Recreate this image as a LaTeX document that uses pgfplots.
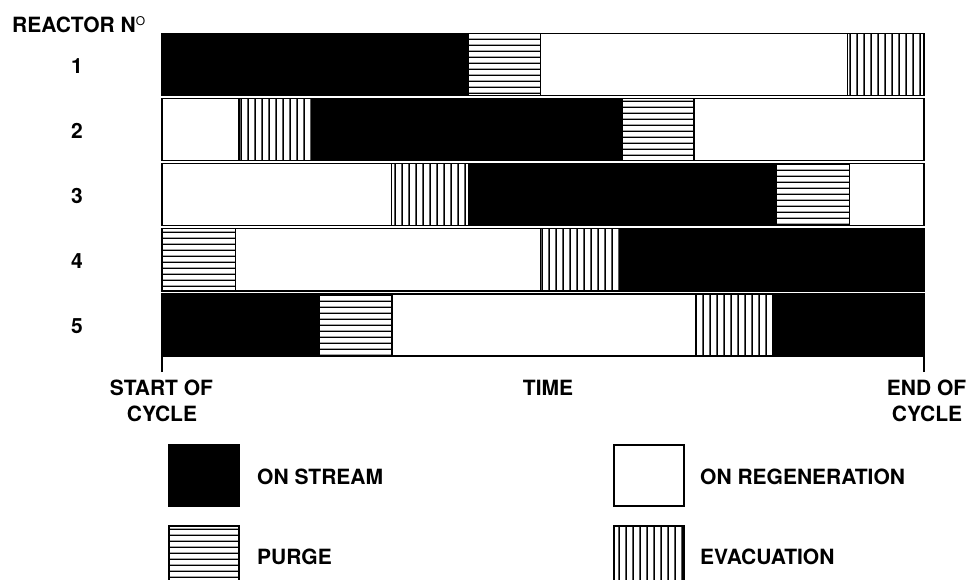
\documentclass[border=0pt]{standalone}
\usepackage{fontspec}
\setmainfont{TeX Gyre Heros}
\usepackage{pgfplots}
\pgfplotsset{compat=1.18}
\usetikzlibrary{patterns}

% long tiles, so that the hatching has no visible seams
\pgfdeclarepatternformonly{hlines}{\pgfpointorigin}{\pgfpoint{300pt}{5.7pt}}{\pgfpoint{300pt}{5.7pt}}{%
  \pgfsetlinewidth{1.2pt}%
  \pgfpathmoveto{\pgfpoint{-1pt}{2.85pt}}\pgfpathlineto{\pgfpoint{301pt}{2.85pt}}%
  \pgfusepath{stroke}}
\pgfdeclarepatternformonly{vlines}{\pgfpointorigin}{\pgfpoint{7pt}{300pt}}{\pgfpoint{7pt}{300pt}}{%
  \pgfsetlinewidth{1.5pt}%
  \pgfpathmoveto{\pgfpoint{3.5pt}{-1pt}}\pgfpathlineto{\pgfpoint{3.5pt}{301pt}}%
  \pgfusepath{stroke}}

% one style per reactor state
\tikzset{
  onstream/.style={draw=black, line width=1.3pt, fill=black},
  regen/.style={draw=black, line width=1.3pt, fill=white},
  purge/.style={draw=black, line width=1.3pt, pattern=hlines},
  evac/.style={draw=black, line width=1.3pt, pattern=vlines},
  lbl/.style={font=\fontsize{21}{24}\selectfont\bfseries, inner sep=0pt},
}

\begin{document}
\begin{tikzpicture}
\useasboundingbox (0,0) rectangle (968pt,-580pt);

\begin{axis}[
  at={(162pt,-356pt)}, anchor=south west,
  scale only axis, width=762pt, height=322.5pt,
  xmin=0, xmax=100, ymin=0, ymax=4.954,
  axis line style={draw=none},
  clip=false,
  xtick={0,100}, xticklabels={\empty,\empty},
  xtick pos=left, tick align=outside,
  major tick length=16pt,
  every tick/.style={black, line width=1.3pt},
  ytick=\empty,
]
% reactor 1
\addplot[onstream] coordinates {(0,4) (40.2,4) (40.2,4.954) (0,4.954)} -- cycle;
\addplot[purge]    coordinates {(40.2,4) (49.7,4) (49.7,4.954) (40.2,4.954)} -- cycle;
\addplot[regen]    coordinates {(49.7,4) (90.0,4) (90.0,4.954) (49.7,4.954)} -- cycle;
\addplot[evac]     coordinates {(90.0,4) (100,4) (100,4.954) (90.0,4.954)} -- cycle;
% reactor 2
\addplot[regen]    coordinates {(0,3) (10.1,3) (10.1,3.954) (0,3.954)} -- cycle;
\addplot[evac]     coordinates {(10.1,3) (19.8,3) (19.8,3.954) (10.1,3.954)} -- cycle;
\addplot[onstream] coordinates {(19.8,3) (60.4,3) (60.4,3.954) (19.8,3.954)} -- cycle;
\addplot[purge]    coordinates {(60.4,3) (69.8,3) (69.8,3.954) (60.4,3.954)} -- cycle;
\addplot[regen]    coordinates {(69.8,3) (100,3) (100,3.954) (69.8,3.954)} -- cycle;
% reactor 3
\addplot[regen]    coordinates {(0,2) (30.1,2) (30.1,2.954) (0,2.954)} -- cycle;
\addplot[evac]     coordinates {(30.1,2) (40.2,2) (40.2,2.954) (30.1,2.954)} -- cycle;
\addplot[onstream] coordinates {(40.2,2) (80.6,2) (80.6,2.954) (40.2,2.954)} -- cycle;
\addplot[purge]    coordinates {(80.6,2) (90.2,2) (90.2,2.954) (80.6,2.954)} -- cycle;
\addplot[regen]    coordinates {(90.2,2) (100,2) (100,2.954) (90.2,2.954)} -- cycle;
% reactor 4
\addplot[purge]    coordinates {(0,1) (9.6,1) (9.6,1.954) (0,1.954)} -- cycle;
\addplot[regen]    coordinates {(9.6,1) (49.7,1) (49.7,1.954) (9.6,1.954)} -- cycle;
\addplot[evac]     coordinates {(49.7,1) (60.0,1) (60.0,1.954) (49.7,1.954)} -- cycle;
\addplot[onstream] coordinates {(60.0,1) (100,1) (100,1.954) (60.0,1.954)} -- cycle;
% reactor 5
\addplot[onstream] coordinates {(0,0) (20.7,0) (20.7,0.954) (0,0.954)} -- cycle;
\addplot[purge]    coordinates {(20.7,0) (30.2,0) (30.2,0.954) (20.7,0.954)} -- cycle;
\addplot[regen]    coordinates {(30.2,0) (70.0,0) (70.0,0.954) (30.2,0.954)} -- cycle;
\addplot[evac]     coordinates {(70.0,0) (80.2,0) (80.2,0.954) (70.0,0.954)} -- cycle;
\addplot[onstream] coordinates {(80.2,0) (100,0) (100,0.954) (80.2,0.954)} -- cycle;
\end{axis}

% titles and row numbers
\node[lbl, anchor=base west] at (12pt,-33pt) {REACTOR N\textsuperscript{\fontsize{12}{12}\selectfont\mdseries O}};
\foreach \n/\y in {1/66,2/131,3/196,4/261,5/326}
  \node[lbl, anchor=base] at (77pt,-\y pt-7.5pt) {\n};

\node[lbl, anchor=base] at (161.5pt,-395pt) {START OF};
\node[lbl, anchor=base] at (162pt,-421pt) {CYCLE};
\node[lbl, anchor=base] at (548pt,-395pt) {TIME};
\node[lbl, anchor=base] at (926.5pt,-395pt) {END OF};
\node[lbl, anchor=base] at (927pt,-421pt) {CYCLE};

% key
\draw[onstream] (169pt,-445pt) rectangle (239pt,-506pt);
\node[lbl, anchor=base west] at (257pt,-484.5pt) {ON STREAM};
\draw[regen] (614pt,-445pt) rectangle (684pt,-506pt);
\node[lbl, anchor=base west] at (700pt,-484.5pt) {ON REGENERATION};
\draw[purge] (169pt,-526pt) rectangle (239pt,-595pt);
\node[lbl, anchor=base west] at (257pt,-564.5pt) {PURGE};
\draw[evac] (614pt,-526pt) rectangle (684pt,-595pt);
\node[lbl, anchor=base west] at (700pt,-564.5pt) {EVACUATION};
\end{tikzpicture}
\end{document}
